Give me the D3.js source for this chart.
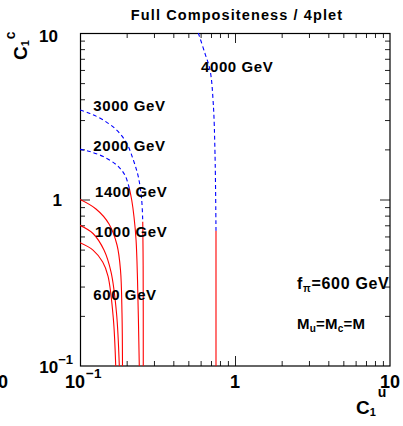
<!DOCTYPE html>
<html>
<head>
<meta charset="utf-8">
<script src="https://cdn.jsdelivr.net/npm/d3@7"></script>
<style>
  html, body { margin: 0; padding: 0; background: #fff; }
  svg { display: block; }
  text { font-family: "Liberation Sans", Arial, Helvetica, sans-serif; font-weight: bold; fill: #000; }
</style>
</head>
<body>
<svg id="chart" width="403" height="426"></svg>
<script>
// Contour lines of constant mass M in the (C1u, C1c) plane, full compositeness, 4-plet.
// Solid red and dashed blue pieces of each contour, as [C1u, C1c] pairs.
const m600 = [[0.1, 0.55], [0.1213, 0.497], [0.1401, 0.421], [0.1516, 0.347], [0.164, 0.194], [0.170, 0.1]];
const m1000 = [[0.1, 0.70], [0.1213, 0.625], [0.1428, 0.497], [0.1585, 0.367], [0.172, 0.208], [0.1793, 0.1]];
const m1400 = [[0.1, 1.0], [0.1268, 0.877], [0.1539, 0.713], [0.1733, 0.533], [0.1825, 0.377], [0.1866, 0.208], [0.188, 0.1]];
const m2000Dashed = [[0.1, 2.0], [0.116, 1.94], [0.1413, 1.81], [0.1725, 1.61], [0.195, 1.40], [0.208, 1.17]];
const m2000Solid = [[0.208, 1.17], [0.2156, 0.993], [0.223, 0.788], [0.23, 0.571], [0.235, 0.329], [0.2413, 0.1]];
const m3000Dashed = [[0.1, 3.45], [0.116, 3.29], [0.1413, 3.0], [0.1725, 2.61], [0.2, 2.18], [0.2207, 1.73], [0.2378, 1.37], [0.25, 0.993], [0.254, 0.736]];
const m3000Solid = [[0.254, 0.736], [0.2555, 0.4], [0.256, 0.1]];
const m4000Dashed = [[0.58, 10], [0.64, 7.55], [0.69, 6.0], [0.724, 3.78], [0.743, 1.89], [0.754, 0.65]];
const m4000Solid = [[0.754, 0.65], [0.754, 0.1]];

// Contour labels: text and anchor point [C1u, C1c] (left end of the baseline)
const contourLabels = ["600 GeV", "1000 GeV", "1400 GeV", "2000 GeV", "3000 GeV", "4000 GeV"];
const contourLabelPos = [[0.1218, 0.249], [0.1249, 0.593], [0.1249, 1.03], [0.1218, 1.96], [0.1218, 3.42], [0.604, 5.87]];

// Axis ticks
const minorTicks = [0.2, 0.3, 0.4, 0.5, 0.6, 0.7, 0.8, 0.9, 2, 3, 4, 5, 6, 7, 8, 9];
const majorTicks = [1];
const tickLabelValues = [0.1, 1, 10];
const tickLabelBase = ["10", "1", "10"];
const tickLabelExp = ["\u22121", "", ""];

const svg = d3.select("#chart");
const x = d3.scaleLog().domain([0.1, 10]).range([80, 390]);
const y = d3.scaleLog().domain([0.1, 10]).range([366, 33]);

svg.append("defs").append("clipPath").attr("id", "plotArea")
  .append("rect").attr("x", 80).attr("y", 33).attr("width", 310).attr("height", 333);

// Tick marks on all four sides, pointing inward
function tickAxis(axisFn, values, size, transform) {
  svg.append("g")
    .attr("transform", transform)
    .call(axisFn.tickValues(values).tickSize(size).tickSizeOuter(0).tickFormat(""))
    .call(g => g.select(".domain").remove())
    .call(g => g.selectAll("line").attr("stroke", "#222").attr("stroke-width", 1));
}
[[minorTicks, 5], [majorTicks, 10]].forEach(([vals, len]) => {
  tickAxis(d3.axisBottom(x), vals, -len, "translate(0,366)");
  tickAxis(d3.axisTop(x), vals, -len, "translate(0,33)");
  tickAxis(d3.axisLeft(y), vals, -len, "translate(80,0)");
  tickAxis(d3.axisRight(y), vals, -len, "translate(390,0)");
});

// Frame
svg.append("rect").attr("x", 80.5).attr("y", 33.5).attr("width", 309.5).attr("height", 332.5)
  .attr("fill", "none").attr("stroke", "#000").attr("stroke-width", 1.2);

// Contours
const line = d3.line().x(d => x(d[0])).y(d => y(d[1])).curve(d3.curveCatmullRom.alpha(0.5));
const plot = svg.append("g").attr("clip-path", "url(#plotArea)");
[m600, m1000, m1400, m2000Solid, m3000Solid, m4000Solid].forEach(d => {
  plot.append("path").attr("d", line(d)).attr("fill", "none")
    .attr("stroke", "#ff0000").attr("stroke-width", 1.1);
});
[m2000Dashed, m3000Dashed, m4000Dashed].forEach(d => {
  plot.append("path").attr("d", line(d)).attr("fill", "none")
    .attr("stroke", "#0000ff").attr("stroke-width", 1.1).attr("stroke-dasharray", "4,3");
});

// Contour labels
contourLabels.forEach((t, i) => {
  svg.append("text").attr("x", x(contourLabelPos[i][0])).attr("y", y(contourLabelPos[i][1]))
    .attr("font-size", 15).attr("letter-spacing", 0.6).text(t);
});

// Tick labels along C1u
const xLabelLeft = [65, null, null];
tickLabelValues.forEach((v, i) => {
  const t = svg.append("text").attr("y", 388).attr("font-size", 18);
  if (xLabelLeft[i] !== null) t.attr("x", xLabelLeft[i]).attr("text-anchor", "start");
  else t.attr("x", x(v)).attr("text-anchor", "middle");
  t.append("tspan").text(tickLabelBase[i]);
  if (tickLabelExp[i]) t.append("tspan").attr("dx", 1).attr("dy", -10).attr("font-size", 13.5).text(tickLabelExp[i]);
});
// Tick labels along C1c
const yLabelRight = [73, 62, 58];
tickLabelValues.forEach((v, i) => {
  const t = svg.append("text").attr("x", yLabelRight[i]).attr("y", y(v) + (i === 2 ? 8.5 : 6.5))
    .attr("font-size", 17).attr("text-anchor", "end");
  t.append("tspan").text(tickLabelBase[i]);
  if (tickLabelExp[i]) t.append("tspan").attr("dy", -9).attr("font-size", 13).text(tickLabelExp[i]);
});
// Label of a neighbouring decade, cut by the left edge
svg.append("text").attr("x", 8).attr("y", 388).attr("font-size", 18).attr("text-anchor", "end").text("10");

// Title
svg.append("text").attr("x", 237).attr("y", 19.5).attr("text-anchor", "middle")
  .attr("font-size", 14.5).attr("letter-spacing", 1.1).text("Full Compositeness / 4plet");

// Axis titles
const xt = svg.append("text").attr("x", 356).attr("y", 414).attr("font-size", 19);
xt.append("tspan").text("C");
xt.append("tspan").attr("font-size", 11).attr("dy", 2).text("1");
xt.append("tspan").attr("font-size", 14).attr("dx", 2).attr("dy", -19).text("u");

const yt = svg.append("text").attr("transform", "translate(27,60) rotate(-90)").attr("font-size", 19);
yt.append("tspan").text("C");
yt.append("tspan").attr("font-size", 11).attr("dy", 2).text("1");
yt.append("tspan").attr("font-size", 14).attr("dx", 1).attr("dy", -14).text("c");

// Parameter notes
const n1 = svg.append("text").attr("x", 297).attr("y", 289).attr("font-size", 16).attr("letter-spacing", 0.7);
n1.append("tspan").text("f");
n1.append("tspan").attr("font-size", 10).attr("dy", 3).text("\u03c0");
n1.append("tspan").attr("dy", -3).text("=600 GeV");

const n2 = svg.append("text").attr("x", 297).attr("y", 329).attr("font-size", 15).attr("letter-spacing", 0.2);
n2.append("tspan").text("M");
n2.append("tspan").attr("font-size", 10).attr("dy", 3).text("u");
n2.append("tspan").attr("dy", -3).text("=M");
n2.append("tspan").attr("font-size", 10).attr("dy", 3).text("c");
n2.append("tspan").attr("dy", -3).text("=M");
</script>
</body>
</html>
